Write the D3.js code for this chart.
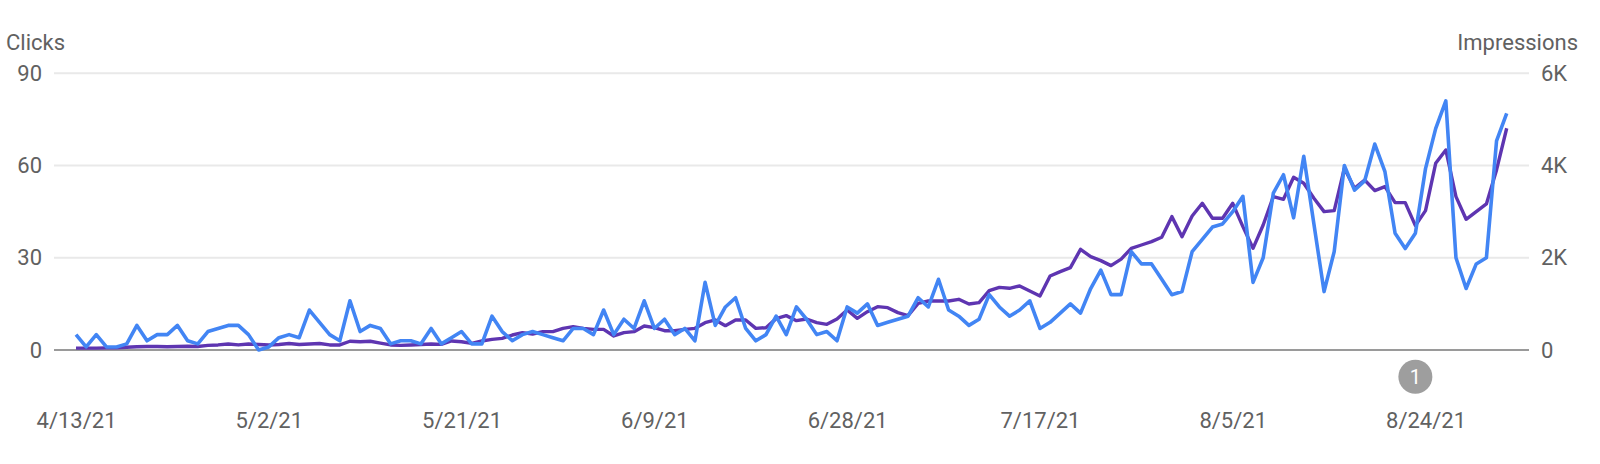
<!DOCTYPE html>
<html>
<head>
<meta charset="utf-8">
<script src="https://cdn.jsdelivr.net/npm/d3@7/dist/d3.min.js"></script>
<style>
  html, body { margin: 0; padding: 0; background: #fff; }
  svg { display: block; font-family: Roboto, "Noto Sans", sans-serif; }
</style>
</head>
<body>
<svg id="chart" width="1600" height="464"></svg>
<script>
// ---- data ----
const startDate = "2021-04-13";
const endDate = "2021-09-01";
const clicks = [
  5,1,5,1,1,2,8,3,5,5,8,3,2,6,7,8,8,5,0,1,4,5,4,13,9,5,3,16,6,8,7,2,3,3,2,7,
  2,4,6,2,2,11,6,3,5,6,5,4,3,7,7,5,13,5,10,7,16,7,10,5,7,3,22,8,14,17,7,3,5,11,
  5,14,10,5,6,3,14,12,15,8,9,10,11,17,14,23,13,11,8,10,18,14,11,13,16,7,9,12,15,12,20,26,18,18,
  32,28,28,23,18,19,32,36,40,41,45,50,22,30,51,57,43,63,41,19,32,60,52,55,67,58,38,33,38,59,72,81,30,20,28,30,68,77
];
const impressions = [
  40,40,40,45,50,60,70,75,75,70,75,80,75,100,110,130,110,130,120,110,120,140,120,130,140,110,110,190,180,190,150,110,100,110,120,130,
  123,195,180,145,195,231,253,325,376,347,398,398,470,506,470,448,448,304,376,398,520,484,419,419,448,470,593,651,528,651,651,470,484,680,
  745,636,672,593,557,672,868,687,831,940,918,810,745,1012,1063,1063,1063,1099,998,1027,1287,1359,1338,1388,1280,1171,1605,1699,1786,2183,2024,1938,1830,1970,
  2205,2277,2350,2444,2892,2458,2906,3181,2856,2856,3181,2675,2205,2711,3326,3268,3745,3615,3290,3000,3022,3940,3507,3687,3456,3543,3196,3196,2697,3022,4049,4338,3326,2834,3000,3167,3904,4808
];
const xTickLabels = ["4/13/21","5/2/21","5/21/21","6/9/21","6/28/21","7/17/21","8/5/21","8/24/21"];
const clickTicks = [0, 30, 60, 90];
const impressionTicks = [0, 2000, 4000, 6000];
const impressionTickLabels = ["0", "2K", "4K", "6K"];
const annotations = [{ date: "2021-08-23", label: "1" }];

// ---- build ----
const parse = d3.timeParse("%Y-%m-%d");
const parseTick = d3.timeParse("%-m/%-d/%y");
const dates = d3.timeDay.range(parse(startDate), d3.timeDay.offset(parse(endDate), 1));
const rows = dates.map((d, i) => ({ date: d, clicks: clicks[i], impressions: impressions[i] }));

const svg = d3.select("#chart");
const plotLeft = 54, plotRight = 1529, plotTop = 73.3, plotBottom = 350;
const x = d3.scaleTime().domain([dates[0], dates[dates.length - 1]]).range([76, 1506.7]);
const yL = d3.scaleLinear().domain([0, 90]).range([plotBottom, plotTop]);
const yR = d3.scaleLinear().domain([0, 6000]).range([plotBottom, plotTop]);

const textColor = "#616161";

// gridlines
svg.append("g")
  .selectAll("line").data(clickTicks.filter(t => t > 0)).join("line")
  .attr("x1", plotLeft).attr("x2", plotRight)
  .attr("y1", d => yL(d)).attr("y2", d => yL(d))
  .attr("stroke", "#e9e9e9").attr("stroke-width", 2);

// left axis
const gL = svg.append("g").attr("transform", `translate(${plotLeft},0)`)
  .call(d3.axisLeft(yL).tickValues(clickTicks).tickSize(0).tickPadding(12));
gL.select(".domain").remove();
gL.selectAll("text").attr("fill", textColor).style("font-size", "22px")
  .style("font-family", "Roboto, sans-serif");

// right axis
const gR = svg.append("g").attr("transform", `translate(${plotRight},0)`)
  .call(d3.axisRight(yR).tickValues(impressionTicks).tickSize(0).tickPadding(12)
    .tickFormat((d, i) => impressionTickLabels[i]));
gR.select(".domain").remove();
gR.selectAll("text").attr("fill", textColor).style("font-size", "22px")
  .style("font-family", "Roboto, sans-serif");

// baseline
svg.append("line")
  .attr("x1", plotLeft).attr("x2", plotRight)
  .attr("y1", yL(0)).attr("y2", yL(0))
  .attr("stroke", "#9a9a9a").attr("stroke-width", 2);

// x axis
const gX = svg.append("g").attr("transform", `translate(0,${yL(0)})`)
  .call(d3.axisBottom(x).tickValues(xTickLabels.map(parseTick)).tickSize(0).tickPadding(62)
    .tickFormat((d, i) => xTickLabels[i]));
gX.select(".domain").remove();
gX.selectAll("text").attr("fill", textColor).style("font-size", "22px")
  .style("font-family", "Roboto, sans-serif");

// axis titles
svg.append("text").attr("x", 6).attr("y", 50).text("Clicks")
  .attr("fill", textColor).style("font-size", "22px");
svg.append("text").attr("x", 1578).attr("y", 50).attr("text-anchor", "end").text("Impressions")
  .attr("fill", textColor).style("font-size", "22px");

// lines
const lineImp = d3.line().x(d => x(d.date)).y(d => yR(d.impressions));
const lineClk = d3.line().x(d => x(d.date)).y(d => yL(d.clicks));
svg.append("path").datum(rows).attr("d", lineImp)
  .attr("fill", "none").attr("stroke", "#5e35b1").attr("stroke-width", 3.4)
  .attr("stroke-linejoin", "round");
svg.append("path").datum(rows).attr("d", lineClk)
  .attr("fill", "none").attr("stroke", "#4285f4").attr("stroke-width", 3.6)
  .attr("stroke-linejoin", "round");

// annotations
const ann = svg.append("g").selectAll("g").data(annotations).join("g")
  .attr("transform", d => `translate(${x(parse(d.date))},376.7)`);
ann.append("circle").attr("r", 17).attr("fill", "#9e9e9e");
ann.append("text").text(d => d.label).attr("text-anchor", "middle").attr("dy", "0.36em")
  .attr("fill", "#fff").style("font-size", "20px");
</script>
</body>
</html>
